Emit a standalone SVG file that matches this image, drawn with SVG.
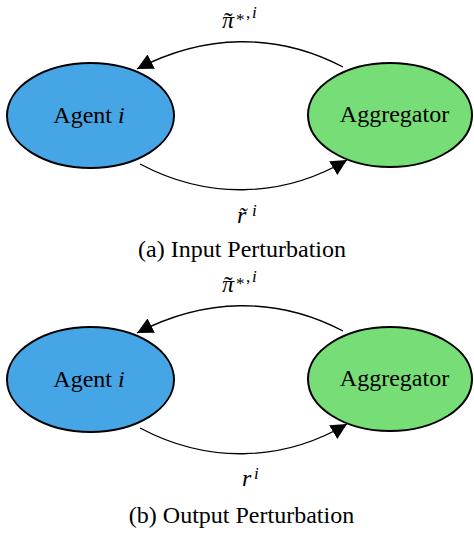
<svg xmlns="http://www.w3.org/2000/svg" width="474" height="533" viewBox="0 0 474 533">
<style>
  .node-a { fill: #46A5E5; stroke: #000; stroke-width: 2; }
  .node-b { fill: #77DD77; stroke: #000; stroke-width: 2; }
  text { font-family: 'Liberation Serif', 'DejaVu Serif', serif; fill: #000; }
  .lbl { font-size: 24px; }
  .mi { font-style: italic; font-size: 24px; }
  .sup { font-size: 17px; }
  .tl { font-size: 26px; font-style: normal; }
  .up { font-style: normal; }
  .edge { fill: none; stroke: #000; stroke-width: 1.3; marker-end: url(#arrow); }
  .cap { font-size: 24px; text-anchor: middle; }
</style>
<defs>
  <marker id="arrow" viewBox="0 0 16 16" refX="16" refY="8" markerWidth="16" markerHeight="16" markerUnits="userSpaceOnUse" orient="auto">
    <path d="M0,0 L16,8 L0,16 z" fill="#000"/>
  </marker>
</defs>
<rect width="474" height="533" fill="#fff"/>

<!-- Panel (a) -->
<g id="panel-a">
  <g id="connectors-a">
    <path class="edge" d="M343,67 C276,32 204,34 137,69"/>
    <path class="edge" d="M140,164 C206,199 281,199 347,160"/>
  </g>
  <g id="agent-a">
    <ellipse class="node-a" cx="90.5" cy="115.5" rx="83.5" ry="52.5"/>
    <text class="lbl" x="89" y="123" text-anchor="middle">Agent <tspan font-style="italic">i</tspan></text>
  </g>
  <g id="aggregator-a">
    <ellipse class="node-b" cx="390" cy="115" rx="82" ry="52"/>
    <text class="lbl" x="394.5" y="122" text-anchor="middle">Aggregator</text>
  </g>
  <g id="label-pi-a">
    <text class="mi" x="222" y="28">π<tspan class="tl" x="224" y="30">˜</tspan><tspan class="sup up" x="236" y="25">*</tspan><tspan class="sup up" x="246" y="18">,</tspan><tspan class="sup" x="252" y="18">i</tspan></text>
  </g>
  <g id="label-r-a">
    <text class="mi" x="237" y="223">r̃<tspan class="sup" x="252" y="216">i</tspan></text>
  </g>
  <text class="cap" x="242" y="257">(a) Input Perturbation</text>
</g>

<!-- Panel (b) -->
<g id="panel-b">
  <g id="connectors-b" transform="translate(0,264)">
    <path class="edge" d="M343,67 C276,32 204,34 137,69"/>
    <path class="edge" d="M140,164 C206,199 281,199 347,160"/>
  </g>
  <g id="agent-b" transform="translate(0,264)">
    <ellipse class="node-a" cx="90.5" cy="115.5" rx="83.5" ry="52.5"/>
    <text class="lbl" x="89" y="123" text-anchor="middle">Agent <tspan font-style="italic">i</tspan></text>
  </g>
  <g id="aggregator-b" transform="translate(0,264)">
    <ellipse class="node-b" cx="390" cy="115" rx="82" ry="52"/>
    <text class="lbl" x="394.5" y="122" text-anchor="middle">Aggregator</text>
  </g>
  <g id="label-pi-b" transform="translate(0,264)">
    <text class="mi" x="222" y="28">π<tspan class="tl" x="224" y="30">˜</tspan><tspan class="sup up" x="236" y="25">*</tspan><tspan class="sup up" x="246" y="18">,</tspan><tspan class="sup" x="252" y="18">i</tspan></text>
  </g>
  <g id="label-r-b">
    <text class="mi" x="242" y="486">r<tspan class="sup" x="254" y="479">i</tspan></text>
  </g>
  <text class="cap" x="241.5" y="523">(b) Output Perturbation</text>
</g>
</svg>
